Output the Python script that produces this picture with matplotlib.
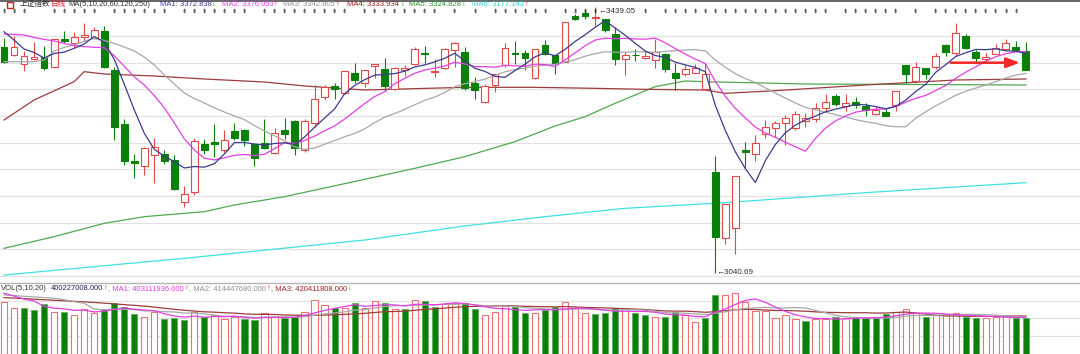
import numpy as np
import pandas as pd
import matplotlib
matplotlib.use("Agg")
import matplotlib.pyplot as plt
from matplotlib.patches import Rectangle
from matplotlib.lines import Line2D

# ---------------- data ----------------
opens = [3379, 3367.5, 3353.5, 3361.5, 3365, 3349, 3391.2, 3385.5, 3394, 3393,
         3403.5, 3345, 3264, 3208, 3201.3, 3217, 3218.5, 3210, 3147, 3162.5,
         3233.3, 3237, 3224.7, 3253.5, 3255, 3233.5, 3236, 3220, 3255, 3268.5,
         3225, 3266, 3305, 3320.7, 3310, 3340.5, 3325, 3351.3, 3346, 3316.5,
         3344.5, 3354, 3371, 3342.3, 3348, 3375.6, 3372, 3325.5, 3297.5, 3322,
         3353, 3371, 3370.5, 3332.5, 3382.5, 3367.5, 3357.5, 3426.5, 3431, 3423,
         3421.5, 3398.5, 3362, 3367.5, 3362.5, 3360, 3369.5, 3340, 3338.5, 3341,
         3316, 3191.5, 3093.7, 3108, 3225.5, 3218.5, 3248.5, 3258, 3265, 3257.5,
         3269.2, 3271.2, 3287.5, 3306, 3291.7, 3297.5, 3290.5, 3279, 3282, 3292.5,
         3352.5, 3328, 3347.5, 3350, 3383, 3371, 3396.3, 3371.5, 3361.8, 3369.5,
         3376.5, 3379, 3374]
highs = [3393, 3395.5, 3374, 3387.5, 3381, 3391.5, 3403.2, 3402.5, 3415, 3410,
         3410.5, 3350, 3271.5, 3219.7, 3229.5, 3243.5, 3225.5, 3217.5, 3170.5, 3242.7,
         3241.5, 3263.7, 3255, 3266.2, 3257.2, 3234, 3271.5, 3257.5, 3272.5, 3270,
         3271.5, 3322.5, 3322.5, 3325, 3343.5, 3356, 3345, 3354, 3362.5, 3349.5,
         3352.5, 3379.5, 3381.3, 3361.5, 3377.5, 3387.5, 3380, 3335, 3324.5, 3339.7,
         3385, 3388, 3375, 3376.5, 3390.5, 3368.2, 3417, 3429.7, 3435, 3439.05,
         3422.2, 3409.5, 3372, 3376.2, 3374, 3391.2, 3371.2, 3355.8, 3352.5, 3354,
         3355, 3216.5, 3144.7, 3186, 3237.5, 3247, 3270, 3268.5, 3277.5, 3283,
         3281, 3296.2, 3308.5, 3308.5, 3309.3, 3305, 3295, 3291.5, 3287.5, 3314.2,
         3353.2, 3356.5, 3348.7, 3370, 3384, 3415, 3399.3, 3375, 3370, 3384.3,
         3391.5, 3388, 3387.5]
lows = [3355, 3366.7, 3343.5, 3360, 3345, 3348.5, 3385.8, 3378.5, 3388.5, 3392,
        3348.7, 3239.5, 3202.5, 3183.3, 3187.5, 3175.2, 3204.5, 3165.7, 3139.5, 3157.5,
        3219.7, 3214.5, 3221.5, 3240, 3231, 3201, 3227.2, 3219.7, 3241, 3217.5,
        3222.5, 3260, 3300, 3301, 3309, 3325, 3319.5, 3333, 3313.2, 3315.7,
        3336.7, 3352.5, 3356.2, 3335, 3347.2, 3350.2, 3315, 3301.5, 3296.2, 3312.5,
        3350, 3354, 3345, 3332.2, 3367.5, 3339.5, 3357, 3419.5, 3421.8, 3411.5,
        3401.5, 3353.2, 3337, 3358.5, 3362.2, 3347.5, 3342.5, 3315, 3336.5, 3340.5,
        3315.7, 3040.69, 3083.7, 3068.5, 3200, 3209.2, 3242.5, 3244.2, 3232.5, 3255,
        3260, 3267.5, 3282.5, 3291.5, 3284.2, 3288, 3276.7, 3277.5, 3276, 3284.2,
        3325, 3326, 3331.5, 3346.5, 3366.5, 3366, 3376.5, 3355.5, 3358.8, 3368.5,
        3375.7, 3375, 3344.5]
closes = [3357, 3379, 3366.5, 3364.5, 3348, 3391, 3389.2, 3394.5, 3397.5, 3404.5,
          3349, 3260.2, 3208, 3205, 3228.3, 3228.9, 3208.5, 3166.2, 3158.5, 3238.8,
          3224.5, 3234.5, 3239.7, 3243, 3240, 3212.5, 3228, 3250, 3248.5, 3227.5,
          3268.5, 3301, 3319.5, 3316, 3343, 3329.5, 3344.5, 3353.7, 3321.3, 3348.7,
          3348, 3376, 3369.3, 3344.2, 3376, 3385, 3318, 3314.5, 3321, 3339,
          3377.5, 3368.5, 3362.5, 3376, 3369.5, 3355, 3416.5, 3422, 3426.3, 3425,
          3405, 3361.8, 3367.5, 3366.75, 3366.3, 3371.5, 3347, 3332.5, 3346, 3347.5,
          3339, 3095, 3144, 3185.5, 3221.5, 3235, 3260, 3265, 3273.5, 3278.5,
          3273.7, 3288.7, 3297, 3293.5, 3295, 3293, 3285, 3284.5, 3276.3, 3313.8,
          3339.3, 3349.2, 3339, 3366.5, 3371.5, 3400, 3377.5, 3363.7, 3365, 3377.5,
          3385, 3375.5, 3345]
# volume in millions
volumes = [571, 507, 514, 491, 552, 469, 469, 431, 502, 457,
           502, 563, 521, 438, 408, 469, 389, 400, 374, 465,
           408, 427, 389, 408, 389, 371, 453, 408, 393, 408,
           465, 597, 544, 507, 514, 566, 507, 582, 560, 499,
           502, 601, 589, 525, 552, 563, 563, 502, 431, 469,
           536, 521, 457, 457, 483, 521, 571, 507, 450, 438,
           457, 514, 502, 450, 431, 411, 411, 469, 427, 352,
           400, 657, 654, 676, 578, 476, 472, 393, 435, 389,
           363, 382, 389, 408, 393, 408, 400, 400, 438, 465,
           502, 450, 408, 427, 427, 457, 411, 393, 400, 411,
           419, 400, 400.227]

# moving-average values before enough bars are visible
ma5_head = [3402.5, 3390, 3376.5, 3371.3]
ma10_head = [3399, 3398.3, 3397.5, 3393.8, 3391, 3388.5, 3384.8, 3381.8, 3380]
ma20_head = [3357.5, 3357.5, 3357.5, 3357.5, 3360, 3373.5, 3378.8, 3382.5, 3387.8,
             3392.5, 3389.3, 3384.8, 3379.5, 3373.5, 3364.5, 3352.5, 3337.5, 3324, 3310.5]
# long moving averages read at selected bars
ma60_idx = [0, 3, 7, 8, 10, 15, 20, 26, 30, 36, 46, 53, 59, 64, 70, 72, 77, 86, 95, 102]
ma60_val = [3270, 3300, 3327.5, 3342.5, 3339, 3336, 3331.5, 3327, 3321,
            3315, 3319, 3319, 3317.5, 3316, 3315, 3310, 3314, 3322.5, 3330, 3331.5]
ma120_idx = [0, 5, 10, 14, 20, 23, 28, 36, 41, 46, 51, 55, 58, 61, 65, 68, 70, 80, 102]
ma120_val = [3077.5, 3095, 3115, 3125, 3132.5, 3142.5, 3155, 3181, 3197.5, 3215, 3237.5,
             3261, 3275, 3295, 3320, 3328.5, 3327.5, 3324, 3322.5]
ma250_idx = [0, 18, 36, 46, 54, 62, 72, 86, 102]
ma250_val = [3037.5, 3062.5, 3090, 3111, 3125, 3137.5, 3146, 3161, 3176]

vol_ma5_head = [671, 641, 608, 586]
vol_ma10_head = [653, 646, 638, 631, 624, 616, 600, 580, 560]
vol_ma20_head = [623, 618, 612, 606, 600, 594, 588, 582, 576, 570,
                 562, 554, 546, 538, 530, 518, 506, 494, 484]

top_marks = [0, 1, 2, 5, 6, 7, 8, 9, 11, 12, 13, 14, 15, 16, 18, 19, 20, 21, 22, 23, 24,
             26, 27, 28, 29, 30, 31, 32, 33, 34, 36, 37, 38, 39, 40, 41, 42, 43, 45, 47,
             49, 50, 51, 52, 53, 54, 56, 57, 58, 59, 64, 66, 67, 68, 69, 70, 71,
             72, 73, 74, 75, 76, 77, 78, 79, 80, 81, 82, 84, 85, 86, 87, 88, 89, 91,
             93, 94, 95, 96, 97, 98, 99, 100, 101]

grid_prices = [3036, 3076, 3116, 3156, 3196, 3236, 3276, 3316, 3356, 3396]
vol_grid = [199, 393, 586]

# ---------------- styling ----------------
RED = "#e24848"
GREEN = "#0a800a"
C_MA5 = "#3c3c8c"
C_MA10 = "#e040e0"
C_MA20 = "#a8a8a8"
C_MA60 = "#9c3c3c"
C_MA120 = "#50a850"
C_MA250 = "#40e0e0"
FONT = ["Liberation Sans", "Noto Sans CJK SC", "DejaVu Sans"]

W, H = 1080, 354
fig = plt.figure(figsize=(W / 100, H / 100), dpi=100)
fig.patch.set_facecolor("white")

ax = fig.add_axes([0, 1 - 283 / H, 1, 281 / H])
axv = fig.add_axes([0, 0, 1, 71 / H])
for a in (ax, axv):
    a.set_axis_off()
    a.set_xlim(-0.4, 107.4)
ax.set_ylim(3025.5, 3447)
axv.set_ylim(0, 785)

O = np.array(opens); Hh = np.array(highs); L = np.array(lows); C = np.array(closes)
V = np.array(volumes)
n = len(C)
x = np.arange(n)

for g in grid_prices:
    ax.axhline(g, color="#e2e2e2", lw=0.9, zorder=0)
for g in vol_grid:
    axv.axhline(g, color="#e2e2e2", lw=0.9, zorder=0)

# candles
bw = 0.68
for i in range(n):
    up = C[i] >= O[i]
    col = RED if up else GREEN
    lo, hi = min(O[i], C[i]), max(O[i], C[i])
    ax.vlines(i, hi, Hh[i], color=col, lw=0.8, zorder=2)
    ax.vlines(i, L[i], lo, color=col, lw=0.8, zorder=2)
    ax.add_patch(Rectangle((i - bw / 2, lo), bw, max(hi - lo, 0.6),
                           facecolor="white" if up else GREEN,
                           edgecolor=col, lw=0.8, zorder=3))

# moving averages
s = pd.Series(C)
ma5 = s.rolling(5).mean().values; ma5[:4] = ma5_head
ma10 = s.rolling(10).mean().values; ma10[:9] = ma10_head
ma20 = s.rolling(20).mean().values; ma20[:19] = ma20_head
ax.plot(ma250_idx, ma250_val, color=C_MA250, lw=0.9, zorder=1)
ax.plot(ma120_idx, ma120_val, color=C_MA120, lw=0.9, zorder=1)
ax.plot(ma60_idx, ma60_val, color=C_MA60, lw=0.9, zorder=1)
ax.plot(x, ma20, color=C_MA20, lw=0.9, zorder=4)
ax.plot(x, ma10, color=C_MA10, lw=0.9, zorder=4)
ax.plot(x, ma5, color=C_MA5, lw=0.9, zorder=4)

# volume bars: colour by close vs previous close
vup = np.r_[True, C[1:] > C[:-1]]
vw = 0.62
for i in range(n):
    if vup[i]:
        axv.add_patch(Rectangle((i - vw / 2, 0), vw, V[i], facecolor="white",
                                edgecolor="#ee7070", lw=0.8, zorder=2))
    else:
        axv.add_patch(Rectangle((i - vw / 2, 0), vw, V[i], facecolor=GREEN,
                                edgecolor="#5fae5f", lw=0.6, zorder=2))
vs = pd.Series(V)
vma5 = vs.rolling(5).mean().values; vma5[:4] = vol_ma5_head
vma10 = vs.rolling(10).mean().values; vma10[:9] = vol_ma10_head
vma20 = vs.rolling(20).mean().values; vma20[:19] = vol_ma20_head
axv.plot(x, vma20, color=C_MA60, lw=0.9, zorder=4)
axv.plot(x, vma10, color=C_MA20, lw=0.9, zorder=4)
axv.plot(x, vma5, color=C_MA10, lw=0.9, zorder=4)

# top marks row
ymark = 3450 - 1.5 * 11.6
for i in top_marks:
    ax.text(i, ymark, "\u21df", ha="center", va="center", fontsize=4.6,
            color="#1e1e1e", family="DejaVu Sans", zorder=5)

# extreme annotations
imax = int(np.argmax(Hh)); imin = int(np.argmin(L))
ax.text(imax + 0.35, 3450 - 1.5 * 11.8, "\u2190" + f"{Hh[imax]:.2f}", ha="left", va="center",
        fontsize=5.8, color="#303030", family=FONT, zorder=6)
ax.text(imin + 0.1, 3450 - 1.5 * 272.7, "\u2190" + f"{L[imin]:.2f}", ha="left", va="center",
        fontsize=5.8, color="#303030", family=FONT, zorder=6)

# red arrow
yarr = 3450 - 1.5 * 62.7
ax.annotate("", xy=(101.4, yarr), xytext=(94.5, yarr),
            arrowprops=dict(arrowstyle="-|>,head_length=0.8,head_width=0.3",
                            color="#f02828", lw=1.8, shrinkA=0, shrinkB=0), zorder=7)

# header texts laid out left to right without overlapping
renderer = fig.canvas.get_renderer()
_end = [0.0]

def T(xp, yp, s, c, fs=5.5, reset=False):
    if reset:
        _end[0] = 0.0
    xs = max(xp, _end[0] + 0.5)
    t = fig.text(xs / W, 1 - yp / H, s, color=c, fontsize=fs, ha="left", va="center",
                 family=FONT)
    bb = t.get_window_extent(renderer)
    _end[0] = bb.x1
    return t

fig.add_artist(Rectangle((7 / W, 1 - 8 / H), 6 / W, 6 / H, transform=fig.transFigure,
                         facecolor="white", edgecolor="#d02020", lw=1.0))
YH = 4.6
T(20, YH, "上证指数", "#303030", reset=True)
T(50, YH, "日线", "#e02020")
T(68, YH, "MA(5,10,20,60,120,250)", "#303030")
T(160, YH, "MA1: 3372.838", C_MA5)
T(211, YH, "\u2193", "#209020")
T(222, YH, "MA2: 3376.053", C_MA10)
T(270, YH, "\u2191", "#e02020")
T(283, YH, "MA3: 3342.805", "#909090")
T(336, YH, "\u2191", "#e02020")
T(347, YH, "MA4: 3333.934", "#9c2020")
T(401, YH, "\u2193", "#209020")
T(409, YH, "MA5: 3324.828", "#309030")
T(462, YH, "\u2193", "#209020")
T(472, YH, "MA6: 3177.143", "#30d0d0")
T(525, YH, "\u2191", "#e02020")

T(1, 288.3, "VOL(5,10,20)", "#303030", reset=True)
T(51, 288.3, "400227008.000", "#202060")
T(101, 288.3, "\u2191", "#e02020")
T(104, 288.3, ", MA1: 403111936.000", C_MA10)
T(185, 288.3, "\u2191", "#e02020")
T(189, 288.3, ", MA2: 414447680.000", "#909090")
T(265, 288.3, "\u2191", "#e02020")
T(268, 288.3, ", MA3: 420411808.000", "#9c2020")
T(347, 288.3, "\u2193", "#209020")

# borders
fig.add_artist(Line2D([0, 1], [1 - 0.8 / H] * 2, color="#5a5a5a", lw=1.3))
fig.add_artist(Line2D([0, 1], [1 - 283 / H] * 2, color="#b4b4b4", lw=1.0))

fig.savefig("out.png", dpi=100, facecolor="white")
